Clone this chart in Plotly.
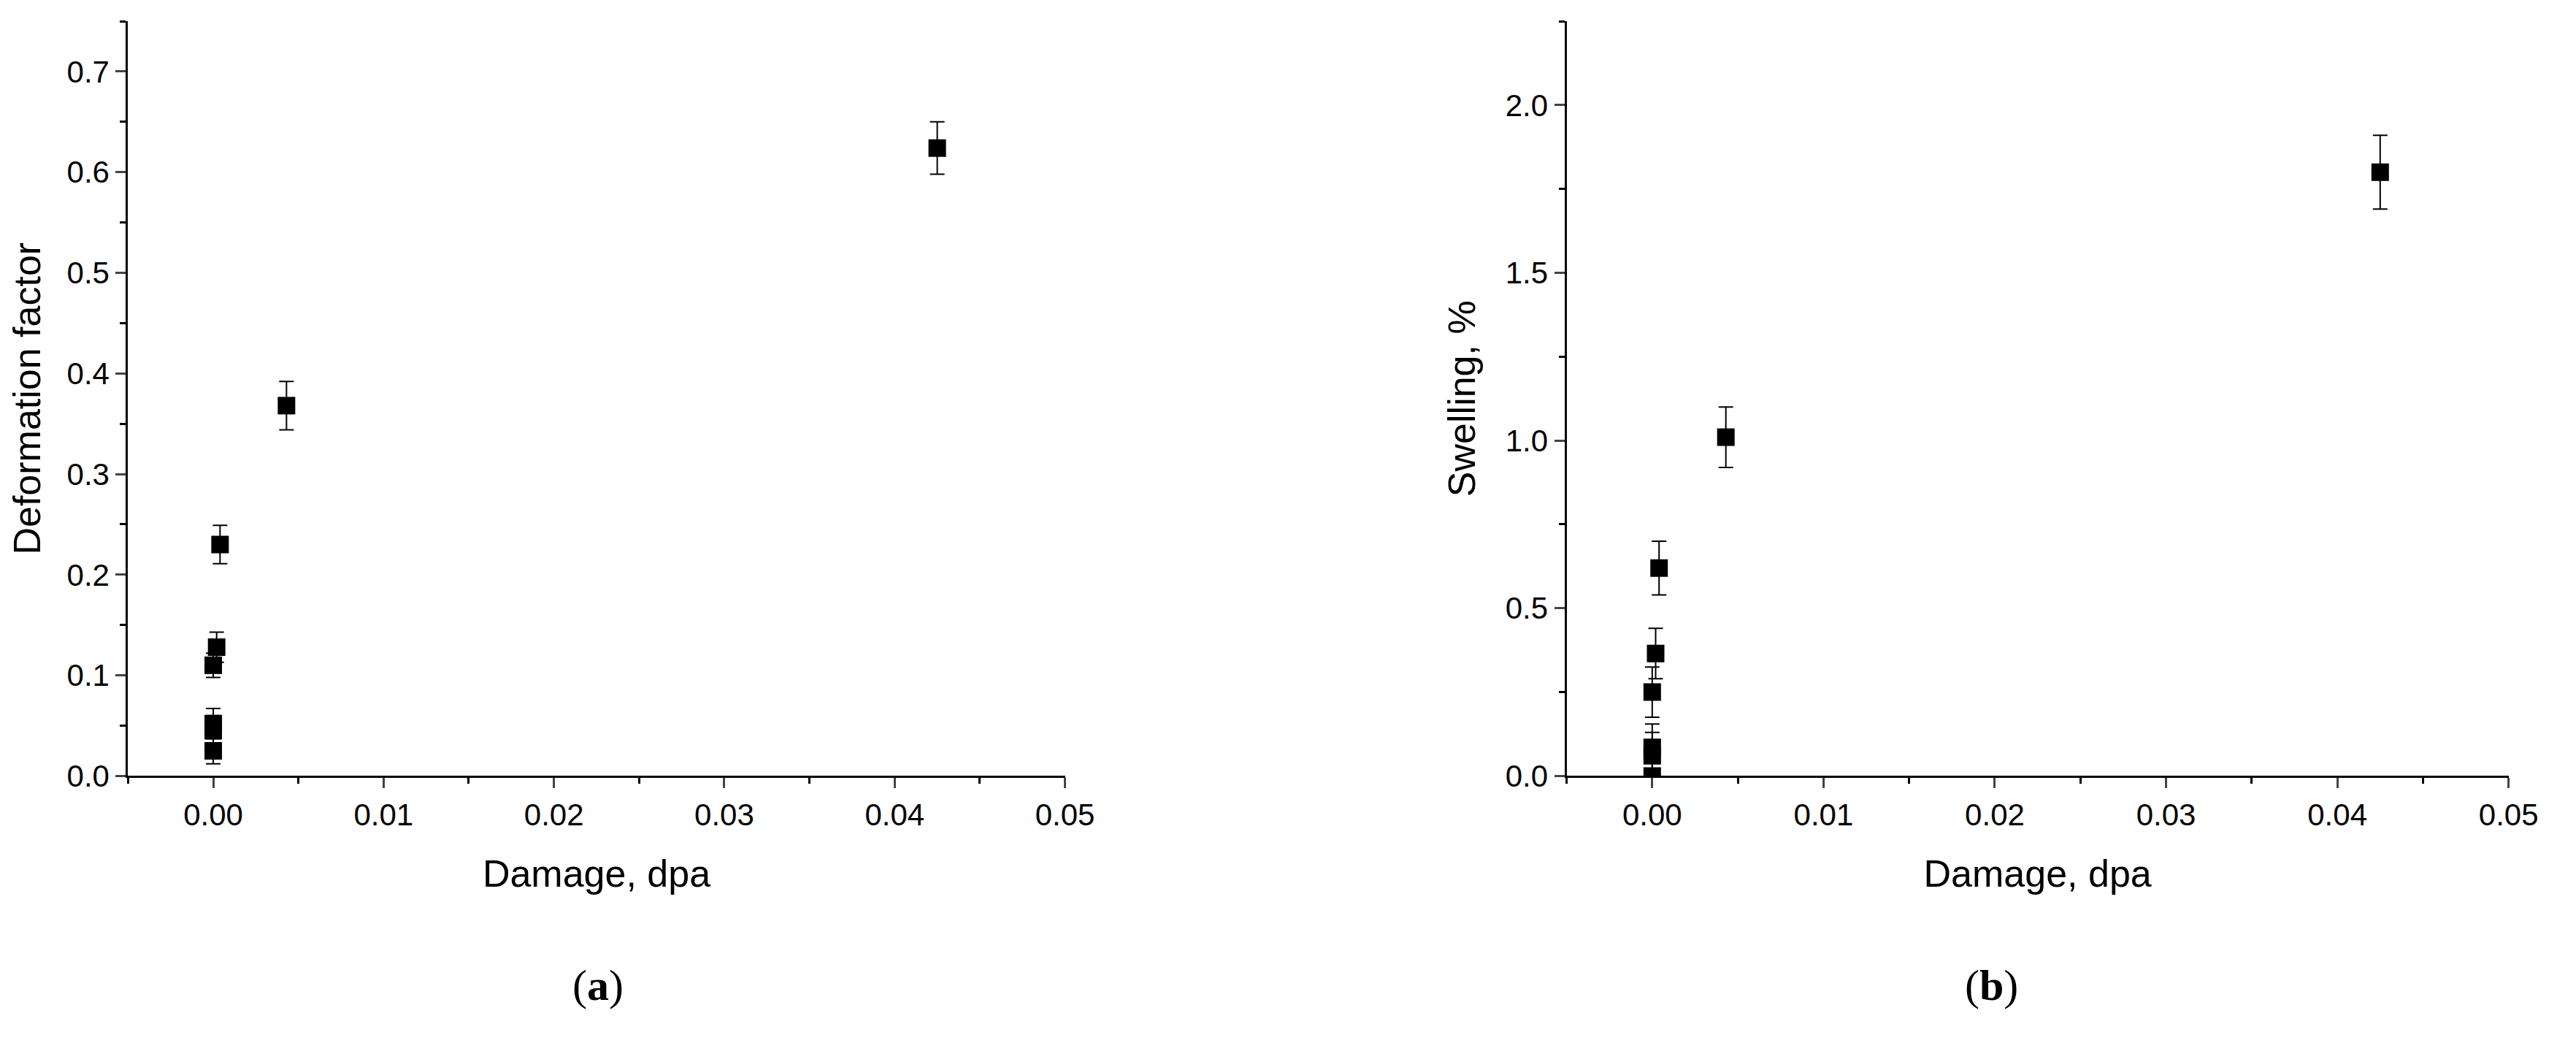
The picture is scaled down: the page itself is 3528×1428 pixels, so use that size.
import plotly.graph_objects as go

dose_a = [0.0, 0.0, 0.0, 0.0, 0.0002, 0.0004, 0.0043, 0.0425]
deform = [0.025, 0.045, 0.052, 0.110, 0.128, 0.230, 0.368, 0.624]
deform_err = [0.013, 0.015, 0.015, 0.012, 0.015, 0.019, 0.024, 0.026]

dose_b = [0.0, 0.0, 0.0, 0.0, 0.0002, 0.0004, 0.0043, 0.0425]
swell = [0.0, 0.06, 0.085, 0.25, 0.365, 0.62, 1.01, 1.80]
swell_err = [0.07, 0.07, 0.07, 0.075, 0.075, 0.08, 0.09, 0.11]

fig = go.Figure()
for x, y, e, xa, ya in [(dose_a, deform, deform_err, "x", "y"), (dose_b, swell, swell_err, "x2", "y2")]:
    fig.add_trace(go.Scatter(x=x, y=y, mode="markers", xaxis=xa, yaxis=ya,
                             marker=dict(symbol="square", size=24, color="black"),
                             error_y=dict(type="data", array=e, color="black", thickness=2, width=10),
                             showlegend=False))

tickfont = dict(family="Liberation Sans Narrow, Liberation Sans, Arial", size=42, color="black")
titlefont = dict(family="Liberation Sans Narrow, Liberation Sans, Arial", size=52, color="black")
common_x = dict(range=[-0.005, 0.05], dtick=0.01, tick0=0, tickformat=".2f", showline=True, linecolor="black",
                linewidth=3, ticks="outside", ticklen=14, tickwidth=3, showgrid=False, zeroline=False,
                tickfont=tickfont, minor=dict(dtick=0.005, ticks="outside", ticklen=8, tickwidth=3, tickcolor="black"),
                title=dict(text="Damage, dpa", font=titlefont, standoff=40))
fig.update_layout(
    width=3528, height=1428, paper_bgcolor="white", plot_bgcolor="white",
    margin=dict(l=0, r=0, t=0, b=0),
    xaxis=dict(domain=[0.048, 0.416], anchor="y", **common_x),
    xaxis2=dict(domain=[0.613, 0.983], anchor="y2", **common_x),
    yaxis=dict(domain=[0.249, 0.985], anchor="x", range=[0, 0.75], dtick=0.1, tickformat=".1f",
               showline=True, linecolor="black", linewidth=3, ticks="outside", ticklen=14, tickwidth=3,
               showgrid=False, zeroline=False, tickfont=tickfont,
               minor=dict(dtick=0.05, ticks="outside", ticklen=8, tickwidth=3, tickcolor="black"),
               title=dict(text="Deformation factor", font=titlefont, standoff=25)),
    yaxis2=dict(domain=[0.249, 0.985], anchor="x2", range=[0, 2.25], dtick=0.5, tickformat=".1f",
                showline=True, linecolor="black", linewidth=3, ticks="outside", ticklen=14, tickwidth=3,
                showgrid=False, zeroline=False, tickfont=tickfont,
                minor=dict(dtick=0.25, ticks="outside", ticklen=8, tickwidth=3, tickcolor="black"),
                title=dict(text="Swelling, %", font=titlefont, standoff=25)),
    annotations=[
        dict(text="(<b>a</b>)", x=0.222, y=0.02, xref="paper", yref="paper", showarrow=False,
             font=dict(family="Liberation Serif, Times New Roman", size=60, color="black")),
        dict(text="(<b>b</b>)", x=0.791, y=0.02, xref="paper", yref="paper", showarrow=False,
             font=dict(family="Liberation Serif, Times New Roman", size=60, color="black")),
    ],
)
fig.write_html("out.html")
